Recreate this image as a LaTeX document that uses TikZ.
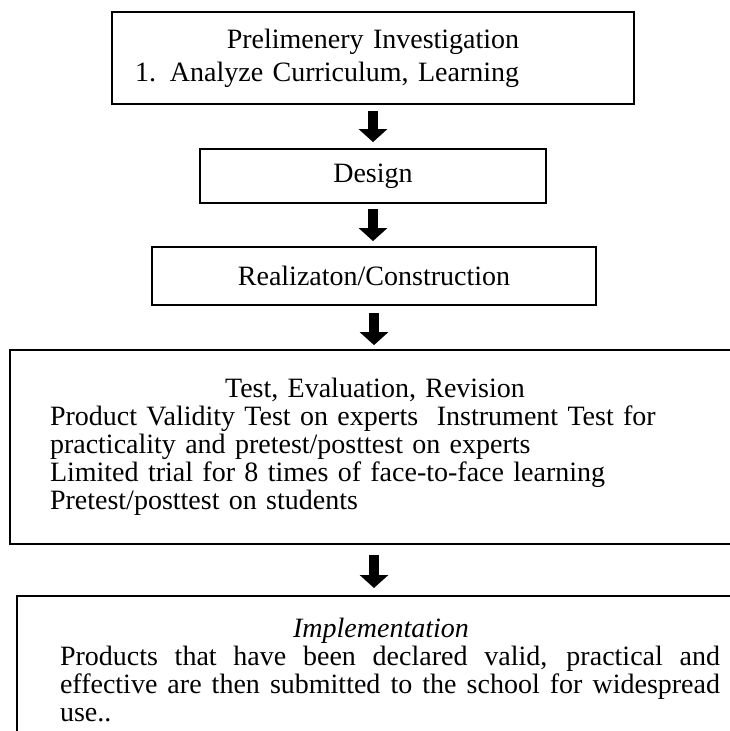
\documentclass[tikz,border=0pt]{standalone}
\usepackage{fontspec}
\setmainfont{Liberation Serif}
\usetikzlibrary{arrows.meta}
\tikzset{
  stage/.style={draw, line width=0.9pt, inner ysep=0pt,
    font=\fontsize{14}{15.5}\selectfont},
  flow/.style={line width=5pt, -{Triangle[length=6.5pt,width=14pt]}}
}
\begin{document}
\begin{tikzpicture}[x=0.5pt,y=-0.5pt]
  \useasboundingbox (0,0) rectangle (729,731);
  % stages
  \node[stage, minimum width=261pt, minimum height=46pt, text width=238pt,
    inner xsep=11.5pt, align=left, font=\fontsize{14}{16.5}\selectfont] (prelim) at (373,58)
    {\centering Prelimenery Investigation\par\raggedright
     1. Analyze Curriculum, Learning};
  \node[stage, minimum width=173pt, minimum height=27pt] (design) at (373,176) {Design};
  \node[stage, minimum width=222pt, minimum height=29pt] (realize) at (374,276)
    {Realizaton/Construction};
  \node[stage, minimum width=365pt, minimum height=97pt, text width=325pt,
    inner xsep=20pt, align=left, font=\fontsize{14}{14}\selectfont] (test) at (375,447)
    {\centering Test, Evaluation, Revision\par\raggedright
     Product Validity Test on experts\ \ Instrument Test for\\
     practicality and pretest/posttest on experts\\
     Limited trial for 8 times of face-to-face learning\\
     Pretest/posttest on students};
  \node[stage, anchor=north, minimum width=364pt, text width=339pt,
    inner xsep=12.5pt, inner ysep=11pt, align=justify,
    font=\fontsize{14}{14}\selectfont] (implement) at (381,595)
    {{\centering\itshape Implementation\par}
     \noindent\hspace*{9pt}Products that have been declared valid, practical and\linebreak
     \hspace*{9pt}effective are then submitted to the school for widespread\linebreak
     \hspace*{9pt}use..};
  % arrows
  \draw[flow, shorten <=3pt, shorten >=3pt] (prelim) -- (design);
  \draw[flow, shorten <=2.5pt, shorten >=2.5pt] (design) -- (design.south |- realize.north);
  \draw[flow, shorten <=3.5pt, shorten >=2pt] (realize.south) -- (realize.south |- test.north);
  \draw[flow, shorten <=5pt, shorten >=3.5pt] (realize.south |- test.south) -- (realize.south |- implement.north);
\end{tikzpicture}
\end{document}
